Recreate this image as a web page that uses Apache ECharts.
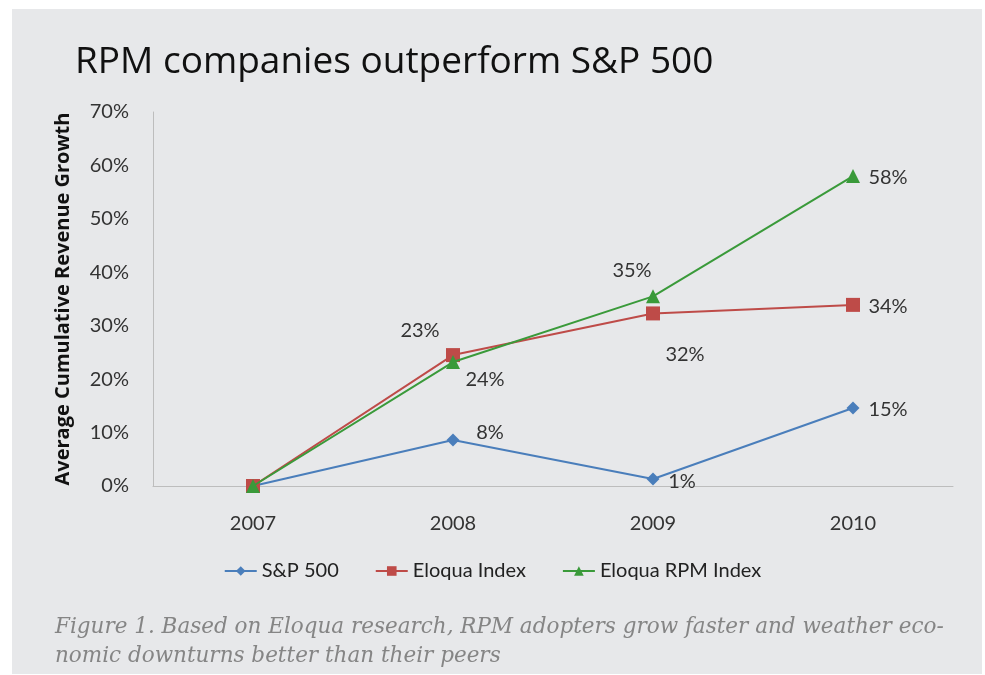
<!DOCTYPE html>
<html>
<head>
<meta charset="utf-8">
<script src="https://cdn.jsdelivr.net/npm/echarts@6/dist/echarts.min.js"></script>
<style>html,body{margin:0;padding:0;background:#fff;}#c{width:985px;height:675px;}</style>
</head>
<body>
<div id="c"></div>
<script>
const categories = ['2007', '2008', '2009', '2010'];
const spValues = [0, 8.6, 1.3, 14.6];
const eloquaValues = [0, 24.5, 32.3, 33.9];
const rpmValues = [0, 23.2, 35.5, 58.0];
const spLabels = ['', '8%', '1%', '15%'];
const eloquaLabels = ['', '24%', '32%', '34%'];
const rpmLabels = ['', '23%', '35%', '58%'];
const yTicks = [0, 10, 20, 30, 40, 50, 60, 70];

const spOffsets = [[0,0],[37,-8],[29,2],[35,2]];
const eloquaOffsets = [[0,0],[32,24],[32,41],[35,2]];
const rpmOffsets = [[0,0],[-33,-31],[-21,-26],[35,1]];

function mkData(vals, labels, offs) {
  return vals.map((v, i) => ({
    value: v,
    label: labels[i] ? {show: true, formatter: labels[i], position: 'inside', offset: offs[i], color: '#333', fontSize: 20, fontFamily: 'Lato', align: 'center', verticalAlign: 'middle'} : {show: false}
  }));
}

const chart = echarts.init(document.getElementById('c'), null, {renderer: 'canvas'});
chart.setOption({
  backgroundColor: '#ffffff',
  animation: false,
  graphic: [
    {type: 'rect', z: -10, shape: {x: 12, y: 9, width: 970, height: 665}, style: {fill: '#e7e8ea'}},
    {type: 'text', left: 55, top: 613, style: {text: 'Figure 1. Based on Eloqua research, RPM adopters grow faster and weather eco-\nnomic downturns better than their peers', font: 'italic 21.5px "DejaVu Serif"', fill: '#858585', lineHeight: 29}}
  ],
  title: {
    text: 'RPM companies outperform S&P 500',
    left: 70, top: 39,
    textStyle: {fontFamily: 'Open Sans', fontSize: 37, fontWeight: 'normal', color: '#111'}
  },
  legend: {
    bottom: 89, left: 'center',
    itemWidth: 32, itemHeight: 12, itemGap: 36,
    textStyle: {fontFamily: 'Lato', fontSize: 20, color: '#222'},
    data: ['S&P 500', 'Eloqua Index', 'Eloqua RPM Index']
  },
  grid: {left: 153, right: 32, top: 112, bottom: 189, containLabel: false},
  xAxis: {
    type: 'category', data: categories, boundaryGap: true,
    axisLine: {lineStyle: {color: '#bdbdbd', width: 1}},
    axisTick: {show: false},
    axisLabel: {fontFamily: 'Lato', fontSize: 20, color: '#333', margin: 28}
  },
  yAxis: {
    type: 'value', min: 0, max: 70, interval: 10,
    name: 'Average Cumulative Revenue Growth', nameLocation: 'middle', nameGap: 80, nameRotate: 90,
    nameTextStyle: {fontFamily: 'Open Sans', fontSize: 20, fontWeight: 'bold', color: '#111'},
    axisLine: {show: true, lineStyle: {color: '#bdbdbd', width: 1}},
    axisTick: {show: false},
    splitLine: {show: false},
    axisLabel: {fontFamily: 'Lato', fontSize: 20, color: '#333', margin: 24, formatter: v => yTicks.includes(v) ? v + '%' : ''}
  },
  series: [
    {name: 'S&P 500', type: 'line', data: mkData(spValues, spLabels, spOffsets), color: '#4a7ebb', symbol: 'diamond', symbolSize: 13, lineStyle: {width: 2}, z: 3},
    {name: 'Eloqua Index', type: 'line', data: mkData(eloquaValues, eloquaLabels, eloquaOffsets), color: '#be4b48', symbol: 'rect', symbolSize: 14, lineStyle: {width: 2}, z: 4},
    {name: 'Eloqua RPM Index', type: 'line', data: mkData(rpmValues, rpmLabels, rpmOffsets), color: '#3a9a3a', symbol: 'triangle', symbolSize: 14, lineStyle: {width: 2}, z: 5}
  ]
});
</script>
</body>
</html>
